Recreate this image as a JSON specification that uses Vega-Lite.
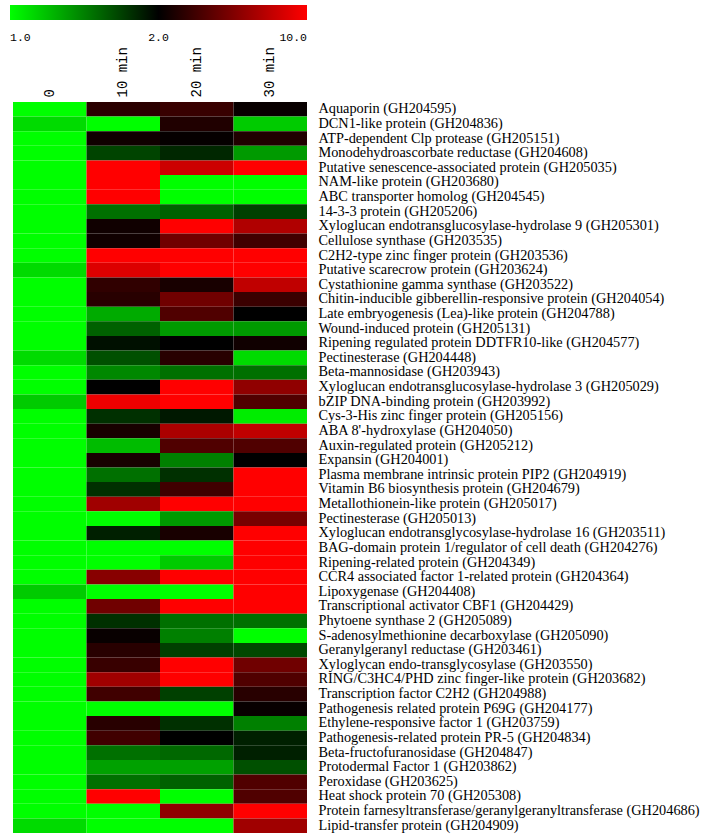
{
  "$schema": "https://vega.github.io/schema/vega-lite/v6.json",
  "autosize": "none",
  "width": 294,
  "height": 731,
  "padding": {"left": 13, "top": 102, "right": 400, "bottom": 6},
  "background": "white",
  "data": {
    "values": [
      {"gene": "Aquaporin (GH204595)", "time": "0", "value": 1.0},
      {"gene": "Aquaporin (GH204595)", "time": "10 min", "value": 2.35},
      {"gene": "Aquaporin (GH204595)", "time": "20 min", "value": 2.49},
      {"gene": "Aquaporin (GH204595)", "time": "30 min", "value": 2.06},
      {"gene": "DCN1-like protein (GH204836)", "time": "0", "value": 1.08},
      {"gene": "DCN1-like protein (GH204836)", "time": "10 min", "value": 1.0},
      {"gene": "DCN1-like protein (GH204836)", "time": "20 min", "value": 2.26},
      {"gene": "DCN1-like protein (GH204836)", "time": "30 min", "value": 1.12},
      {"gene": "ATP-dependent Clp protease (GH205151)", "time": "0", "value": 1.0},
      {"gene": "ATP-dependent Clp protease (GH205151)", "time": "10 min", "value": 2.12},
      {"gene": "ATP-dependent Clp protease (GH205151)", "time": "20 min", "value": 2.04},
      {"gene": "ATP-dependent Clp protease (GH205151)", "time": "30 min", "value": 2.26},
      {"gene": "Monodehydroascorbate reductase (GH204608)", "time": "0", "value": 1.0},
      {"gene": "Monodehydroascorbate reductase (GH204608)", "time": "10 min", "value": 1.6},
      {"gene": "Monodehydroascorbate reductase (GH204608)", "time": "20 min", "value": 1.75},
      {"gene": "Monodehydroascorbate reductase (GH204608)", "time": "30 min", "value": 1.26},
      {"gene": "Putative senescence-associated protein (GH205035)", "time": "0", "value": 1.0},
      {"gene": "Putative senescence-associated protein (GH205035)", "time": "10 min", "value": 10.0},
      {"gene": "Putative senescence-associated protein (GH205035)", "time": "20 min", "value": 5.94},
      {"gene": "Putative senescence-associated protein (GH205035)", "time": "30 min", "value": 10.0},
      {"gene": "NAM-like protein (GH203680)", "time": "0", "value": 1.0},
      {"gene": "NAM-like protein (GH203680)", "time": "10 min", "value": 10.0},
      {"gene": "NAM-like protein (GH203680)", "time": "20 min", "value": 1.0},
      {"gene": "NAM-like protein (GH203680)", "time": "30 min", "value": 1.0},
      {"gene": "ABC transporter homolog (GH204545)", "time": "0", "value": 1.0},
      {"gene": "ABC transporter homolog (GH204545)", "time": "10 min", "value": 10.0},
      {"gene": "ABC transporter homolog (GH204545)", "time": "20 min", "value": 1.0},
      {"gene": "ABC transporter homolog (GH204545)", "time": "30 min", "value": 1.0},
      {"gene": "14-3-3 protein (GH205206)", "time": "0", "value": 1.0},
      {"gene": "14-3-3 protein (GH205206)", "time": "10 min", "value": 1.41},
      {"gene": "14-3-3 protein (GH205206)", "time": "20 min", "value": 1.47},
      {"gene": "14-3-3 protein (GH205206)", "time": "30 min", "value": 1.62},
      {"gene": "Xyloglucan endotransglucosylase-hydrolase 9 (GH205301)", "time": "0", "value": 1.0},
      {"gene": "Xyloglucan endotransglucosylase-hydrolase 9 (GH205301)", "time": "10 min", "value": 2.12},
      {"gene": "Xyloglucan endotransglucosylase-hydrolase 9 (GH205301)", "time": "20 min", "value": 10.0},
      {"gene": "Xyloglucan endotransglucosylase-hydrolase 9 (GH205301)", "time": "30 min", "value": 4.79},
      {"gene": "Cellulose synthase (GH203535)", "time": "0", "value": 1.0},
      {"gene": "Cellulose synthase (GH203535)", "time": "10 min", "value": 2.12},
      {"gene": "Cellulose synthase (GH203535)", "time": "20 min", "value": 3.24},
      {"gene": "Cellulose synthase (GH203535)", "time": "30 min", "value": 2.58},
      {"gene": "C2H2-type zinc finger protein (GH203536)", "time": "0", "value": 1.0},
      {"gene": "C2H2-type zinc finger protein (GH203536)", "time": "10 min", "value": 10.0},
      {"gene": "C2H2-type zinc finger protein (GH203536)", "time": "20 min", "value": 10.0},
      {"gene": "C2H2-type zinc finger protein (GH203536)", "time": "30 min", "value": 10.0},
      {"gene": "Putative scarecrow protein (GH203624)", "time": "0", "value": 1.08},
      {"gene": "Putative scarecrow protein (GH203624)", "time": "10 min", "value": 6.91},
      {"gene": "Putative scarecrow protein (GH203624)", "time": "20 min", "value": 10.0},
      {"gene": "Putative scarecrow protein (GH203624)", "time": "30 min", "value": 10.0},
      {"gene": "Cystathionine gamma synthase (GH203522)", "time": "0", "value": 1.0},
      {"gene": "Cystathionine gamma synthase (GH203522)", "time": "10 min", "value": 2.41},
      {"gene": "Cystathionine gamma synthase (GH203522)", "time": "20 min", "value": 2.19},
      {"gene": "Cystathionine gamma synthase (GH203522)", "time": "30 min", "value": 5.39},
      {"gene": "Chitin-inducible gibberellin-responsive protein (GH204054)", "time": "0", "value": 1.0},
      {"gene": "Chitin-inducible gibberellin-responsive protein (GH204054)", "time": "10 min", "value": 2.33},
      {"gene": "Chitin-inducible gibberellin-responsive protein (GH204054)", "time": "20 min", "value": 3.24},
      {"gene": "Chitin-inducible gibberellin-responsive protein (GH204054)", "time": "30 min", "value": 2.51},
      {"gene": "Late embryogenesis (Lea)-like protein (GH204788)", "time": "0", "value": 1.0},
      {"gene": "Late embryogenesis (Lea)-like protein (GH204788)", "time": "10 min", "value": 1.21},
      {"gene": "Late embryogenesis (Lea)-like protein (GH204788)", "time": "20 min", "value": 2.77},
      {"gene": "Late embryogenesis (Lea)-like protein (GH204788)", "time": "30 min", "value": 2.0},
      {"gene": "Wound-induced protein (GH205131)", "time": "0", "value": 1.0},
      {"gene": "Wound-induced protein (GH205131)", "time": "10 min", "value": 1.47},
      {"gene": "Wound-induced protein (GH205131)", "time": "20 min", "value": 1.26},
      {"gene": "Wound-induced protein (GH205131)", "time": "30 min", "value": 1.26},
      {"gene": "Ripening regulated protein DDTFR10-like (GH204577)", "time": "0", "value": 1.0},
      {"gene": "Ripening regulated protein DDTFR10-like (GH204577)", "time": "10 min", "value": 1.89},
      {"gene": "Ripening regulated protein DDTFR10-like (GH204577)", "time": "20 min", "value": 2.0},
      {"gene": "Ripening regulated protein DDTFR10-like (GH204577)", "time": "30 min", "value": 2.12},
      {"gene": "Pectinesterase (GH204448)", "time": "0", "value": 1.08},
      {"gene": "Pectinesterase (GH204448)", "time": "10 min", "value": 1.54},
      {"gene": "Pectinesterase (GH204448)", "time": "20 min", "value": 2.33},
      {"gene": "Pectinesterase (GH204448)", "time": "30 min", "value": 1.08},
      {"gene": "Beta-mannosidase (GH203943)", "time": "0", "value": 1.0},
      {"gene": "Beta-mannosidase (GH203943)", "time": "10 min", "value": 1.32},
      {"gene": "Beta-mannosidase (GH203943)", "time": "20 min", "value": 1.41},
      {"gene": "Beta-mannosidase (GH203943)", "time": "30 min", "value": 1.41},
      {"gene": "Xyloglucan endotransglucosylase-hydrolase 3 (GH205029)", "time": "0", "value": 1.0},
      {"gene": "Xyloglucan endotransglucosylase-hydrolase 3 (GH205029)", "time": "10 min", "value": 2.0},
      {"gene": "Xyloglucan endotransglucosylase-hydrolase 3 (GH205029)", "time": "20 min", "value": 10.0},
      {"gene": "Xyloglucan endotransglucosylase-hydrolase 3 (GH205029)", "time": "30 min", "value": 3.89},
      {"gene": "bZIP DNA-binding protein (GH203992)", "time": "0", "value": 1.12},
      {"gene": "bZIP DNA-binding protein (GH203992)", "time": "10 min", "value": 8.2},
      {"gene": "bZIP DNA-binding protein (GH203992)", "time": "20 min", "value": 10.0},
      {"gene": "bZIP DNA-binding protein (GH203992)", "time": "30 min", "value": 2.77},
      {"gene": "Cys-3-His zinc finger protein (GH205156)", "time": "0", "value": 1.0},
      {"gene": "Cys-3-His zinc finger protein (GH205156)", "time": "10 min", "value": 1.7},
      {"gene": "Cys-3-His zinc finger protein (GH205156)", "time": "20 min", "value": 1.84},
      {"gene": "Cys-3-His zinc finger protein (GH205156)", "time": "30 min", "value": 1.04},
      {"gene": "ABA 8'-hydroxylase (GH204050)", "time": "0", "value": 1.0},
      {"gene": "ABA 8'-hydroxylase (GH204050)", "time": "10 min", "value": 2.19},
      {"gene": "ABA 8'-hydroxylase (GH204050)", "time": "20 min", "value": 4.59},
      {"gene": "ABA 8'-hydroxylase (GH204050)", "time": "30 min", "value": 5.39},
      {"gene": "Auxin-regulated protein (GH205212)", "time": "0", "value": 1.0},
      {"gene": "Auxin-regulated protein (GH205212)", "time": "10 min", "value": 1.16},
      {"gene": "Auxin-regulated protein (GH205212)", "time": "20 min", "value": 2.77},
      {"gene": "Auxin-regulated protein (GH205212)", "time": "30 min", "value": 2.77},
      {"gene": "Expansin (GH204001)", "time": "0", "value": 1.0},
      {"gene": "Expansin (GH204001)", "time": "10 min", "value": 2.19},
      {"gene": "Expansin (GH204001)", "time": "20 min", "value": 1.35},
      {"gene": "Expansin (GH204001)", "time": "30 min", "value": 2.0},
      {"gene": "Plasma membrane intrinsic protein PIP2 (GH204919)", "time": "0", "value": 1.0},
      {"gene": "Plasma membrane intrinsic protein PIP2 (GH204919)", "time": "10 min", "value": 1.41},
      {"gene": "Plasma membrane intrinsic protein PIP2 (GH204919)", "time": "20 min", "value": 1.7},
      {"gene": "Plasma membrane intrinsic protein PIP2 (GH204919)", "time": "30 min", "value": 10.0},
      {"gene": "Vitamin B6 biosynthesis protein (GH204679)", "time": "0", "value": 1.0},
      {"gene": "Vitamin B6 biosynthesis protein (GH204679)", "time": "10 min", "value": 1.7},
      {"gene": "Vitamin B6 biosynthesis protein (GH204679)", "time": "20 min", "value": 2.58},
      {"gene": "Vitamin B6 biosynthesis protein (GH204679)", "time": "30 min", "value": 10.0},
      {"gene": "Metallothionein-like protein (GH205017)", "time": "0", "value": 1.0},
      {"gene": "Metallothionein-like protein (GH205017)", "time": "10 min", "value": 4.3},
      {"gene": "Metallothionein-like protein (GH205017)", "time": "20 min", "value": 10.0},
      {"gene": "Metallothionein-like protein (GH205017)", "time": "30 min", "value": 10.0},
      {"gene": "Pectinesterase (GH205013)", "time": "0", "value": 1.0},
      {"gene": "Pectinesterase (GH205013)", "time": "10 min", "value": 1.0},
      {"gene": "Pectinesterase (GH205013)", "time": "20 min", "value": 1.26},
      {"gene": "Pectinesterase (GH205013)", "time": "30 min", "value": 3.39},
      {"gene": "Xyloglucan endotransglycosylase-hydrolase 16 (GH203511)", "time": "0", "value": 1.0},
      {"gene": "Xyloglucan endotransglycosylase-hydrolase 16 (GH203511)", "time": "10 min", "value": 1.79},
      {"gene": "Xyloglucan endotransglycosylase-hydrolase 16 (GH203511)", "time": "20 min", "value": 2.19},
      {"gene": "Xyloglucan endotransglycosylase-hydrolase 16 (GH203511)", "time": "30 min", "value": 10.0},
      {"gene": "BAG-domain protein 1/regulator of cell death (GH204276)", "time": "0", "value": 1.0},
      {"gene": "BAG-domain protein 1/regulator of cell death (GH204276)", "time": "10 min", "value": 1.0},
      {"gene": "BAG-domain protein 1/regulator of cell death (GH204276)", "time": "20 min", "value": 1.0},
      {"gene": "BAG-domain protein 1/regulator of cell death (GH204276)", "time": "30 min", "value": 10.0},
      {"gene": "Ripening-related protein (GH204349)", "time": "0", "value": 1.0},
      {"gene": "Ripening-related protein (GH204349)", "time": "10 min", "value": 1.0},
      {"gene": "Ripening-related protein (GH204349)", "time": "20 min", "value": 1.12},
      {"gene": "Ripening-related protein (GH204349)", "time": "30 min", "value": 10.0},
      {"gene": "CCR4 associated factor 1-related protein (GH204364)", "time": "0", "value": 1.0},
      {"gene": "CCR4 associated factor 1-related protein (GH204364)", "time": "10 min", "value": 3.71},
      {"gene": "CCR4 associated factor 1-related protein (GH204364)", "time": "20 min", "value": 10.0},
      {"gene": "CCR4 associated factor 1-related protein (GH204364)", "time": "30 min", "value": 10.0},
      {"gene": "Lipoxygenase (GH204408)", "time": "0", "value": 1.12},
      {"gene": "Lipoxygenase (GH204408)", "time": "10 min", "value": 1.0},
      {"gene": "Lipoxygenase (GH204408)", "time": "20 min", "value": 1.0},
      {"gene": "Lipoxygenase (GH204408)", "time": "30 min", "value": 10.0},
      {"gene": "Transcriptional activator CBF1 (GH204429)", "time": "0", "value": 1.0},
      {"gene": "Transcriptional activator CBF1 (GH204429)", "time": "10 min", "value": 3.24},
      {"gene": "Transcriptional activator CBF1 (GH204429)", "time": "20 min", "value": 10.0},
      {"gene": "Transcriptional activator CBF1 (GH204429)", "time": "30 min", "value": 10.0},
      {"gene": "Phytoene synthase 2 (GH205089)", "time": "0", "value": 1.0},
      {"gene": "Phytoene synthase 2 (GH205089)", "time": "10 min", "value": 1.7},
      {"gene": "Phytoene synthase 2 (GH205089)", "time": "20 min", "value": 1.41},
      {"gene": "Phytoene synthase 2 (GH205089)", "time": "30 min", "value": 1.41},
      {"gene": "S-adenosylmethionine decarboxylase (GH205090)", "time": "0", "value": 1.0},
      {"gene": "S-adenosylmethionine decarboxylase (GH205090)", "time": "10 min", "value": 2.06},
      {"gene": "S-adenosylmethionine decarboxylase (GH205090)", "time": "20 min", "value": 1.35},
      {"gene": "S-adenosylmethionine decarboxylase (GH205090)", "time": "30 min", "value": 1.0},
      {"gene": "Geranylgeranyl reductase (GH203461)", "time": "0", "value": 1.0},
      {"gene": "Geranylgeranyl reductase (GH203461)", "time": "10 min", "value": 2.33},
      {"gene": "Geranylgeranyl reductase (GH203461)", "time": "20 min", "value": 1.62},
      {"gene": "Geranylgeranyl reductase (GH203461)", "time": "30 min", "value": 1.58},
      {"gene": "Xyloglycan endo-transglycosylase (GH203550)", "time": "0", "value": 1.0},
      {"gene": "Xyloglycan endo-transglycosylase (GH203550)", "time": "10 min", "value": 2.49},
      {"gene": "Xyloglycan endo-transglycosylase (GH203550)", "time": "20 min", "value": 10.0},
      {"gene": "Xyloglycan endo-transglycosylase (GH203550)", "time": "30 min", "value": 3.24},
      {"gene": "RING/C3HC4/PHD zinc finger-like protein (GH203682)", "time": "0", "value": 1.0},
      {"gene": "RING/C3HC4/PHD zinc finger-like protein (GH203682)", "time": "10 min", "value": 4.3},
      {"gene": "RING/C3HC4/PHD zinc finger-like protein (GH203682)", "time": "20 min", "value": 10.0},
      {"gene": "RING/C3HC4/PHD zinc finger-like protein (GH203682)", "time": "30 min", "value": 2.77},
      {"gene": "Transcription factor C2H2 (GH204988)", "time": "0", "value": 1.0},
      {"gene": "Transcription factor C2H2 (GH204988)", "time": "10 min", "value": 2.58},
      {"gene": "Transcription factor C2H2 (GH204988)", "time": "20 min", "value": 1.62},
      {"gene": "Transcription factor C2H2 (GH204988)", "time": "30 min", "value": 2.33},
      {"gene": "Pathogenesis related protein P69G (GH204177)", "time": "0", "value": 1.0},
      {"gene": "Pathogenesis related protein P69G (GH204177)", "time": "10 min", "value": 1.0},
      {"gene": "Pathogenesis related protein P69G (GH204177)", "time": "20 min", "value": 1.0},
      {"gene": "Pathogenesis related protein P69G (GH204177)", "time": "30 min", "value": 2.06},
      {"gene": "Ethylene-responsive factor 1 (GH203759)", "time": "0", "value": 1.0},
      {"gene": "Ethylene-responsive factor 1 (GH203759)", "time": "10 min", "value": 2.33},
      {"gene": "Ethylene-responsive factor 1 (GH203759)", "time": "20 min", "value": 1.7},
      {"gene": "Ethylene-responsive factor 1 (GH203759)", "time": "30 min", "value": 1.35},
      {"gene": "Pathogenesis-related protein PR-5 (GH204834)", "time": "0", "value": 1.0},
      {"gene": "Pathogenesis-related protein PR-5 (GH204834)", "time": "10 min", "value": 2.58},
      {"gene": "Pathogenesis-related protein PR-5 (GH204834)", "time": "20 min", "value": 2.0},
      {"gene": "Pathogenesis-related protein PR-5 (GH204834)", "time": "30 min", "value": 1.79},
      {"gene": "Beta-fructofuranosidase (GH204847)", "time": "0", "value": 1.0},
      {"gene": "Beta-fructofuranosidase (GH204847)", "time": "10 min", "value": 1.41},
      {"gene": "Beta-fructofuranosidase (GH204847)", "time": "20 min", "value": 1.44},
      {"gene": "Beta-fructofuranosidase (GH204847)", "time": "30 min", "value": 1.79},
      {"gene": "Protodermal Factor 1 (GH203862)", "time": "0", "value": 1.0},
      {"gene": "Protodermal Factor 1 (GH203862)", "time": "10 min", "value": 1.24},
      {"gene": "Protodermal Factor 1 (GH203862)", "time": "20 min", "value": 1.24},
      {"gene": "Protodermal Factor 1 (GH203862)", "time": "30 min", "value": 1.54},
      {"gene": "Peroxidase (GH203625)", "time": "0", "value": 1.0},
      {"gene": "Peroxidase (GH203625)", "time": "10 min", "value": 1.41},
      {"gene": "Peroxidase (GH203625)", "time": "20 min", "value": 1.47},
      {"gene": "Peroxidase (GH203625)", "time": "30 min", "value": 2.77},
      {"gene": "Heat shock protein 70 (GH205308)", "time": "0", "value": 1.0},
      {"gene": "Heat shock protein 70 (GH205308)", "time": "10 min", "value": 10.0},
      {"gene": "Heat shock protein 70 (GH205308)", "time": "20 min", "value": 1.0},
      {"gene": "Heat shock protein 70 (GH205308)", "time": "30 min", "value": 2.77},
      {"gene": "Protein farnesyltransferase/geranylgeranyltransferase (GH204686)", "time": "0", "value": 1.0},
      {"gene": "Protein farnesyltransferase/geranylgeranyltransferase (GH204686)", "time": "10 min", "value": 1.0},
      {"gene": "Protein farnesyltransferase/geranylgeranyltransferase (GH204686)", "time": "20 min", "value": 3.89},
      {"gene": "Protein farnesyltransferase/geranylgeranyltransferase (GH204686)", "time": "30 min", "value": 10.0},
      {"gene": "Lipid-transfer protein (GH204909)", "time": "0", "value": 1.08},
      {"gene": "Lipid-transfer protein (GH204909)", "time": "10 min", "value": 1.0},
      {"gene": "Lipid-transfer protein (GH204909)", "time": "20 min", "value": 1.0},
      {"gene": "Lipid-transfer protein (GH204909)", "time": "30 min", "value": 4.3}
    ]
  },
  "mark": {"type": "rect"},
  "encoding": {
    "x": {
      "field": "time",
      "type": "nominal",
      "sort": null,
      "scale": {"paddingInner": 0, "paddingOuter": 0},
      "axis": {
        "orient": "top",
        "title": null,
        "labelAngle": 270,
        "labelAlign": "left",
        "labelBaseline": "middle",
        "labelFont": "Liberation Mono",
        "labelFontSize": 14,
        "labelColor": "#000000",
        "labelPadding": 5,
        "ticks": false,
        "domain": false,
        "grid": false
      }
    },
    "y": {
      "field": "gene",
      "type": "nominal",
      "sort": null,
      "scale": {"paddingInner": 0, "paddingOuter": 0},
      "axis": {
        "orient": "right",
        "title": null,
        "labelFont": "Liberation Serif",
        "labelFontSize": 14.3,
        "labelColor": "#000000",
        "labelPadding": 11,
        "labelLimit": 0,
        "ticks": false,
        "domain": false,
        "grid": false
      }
    },
    "color": {
      "field": "value",
      "type": "quantitative",
      "scale": {
        "type": "pow",
        "exponent": -0.777,
        "domain": [1, 2, 10],
        "range": ["#00ff00", "#000000", "#ff0000"],
        "interpolate": "rgb",
        "clamp": true
      },
      "legend": {
        "orient": "none",
        "legendX": -3,
        "legendY": -97,
        "direction": "horizontal",
        "title": null,
        "gradientLength": 297,
        "gradientThickness": 15,
        "gradientStrokeWidth": 0,
        "values": [1, 2, 10],
        "format": ".1f",
        "labelFont": "Liberation Mono",
        "labelFontSize": 11.5,
        "labelColor": "#000000",
        "labelOffset": 12,
        "padding": 0
      }
    }
  },
  "config": {"view": {"stroke": null}}
}
